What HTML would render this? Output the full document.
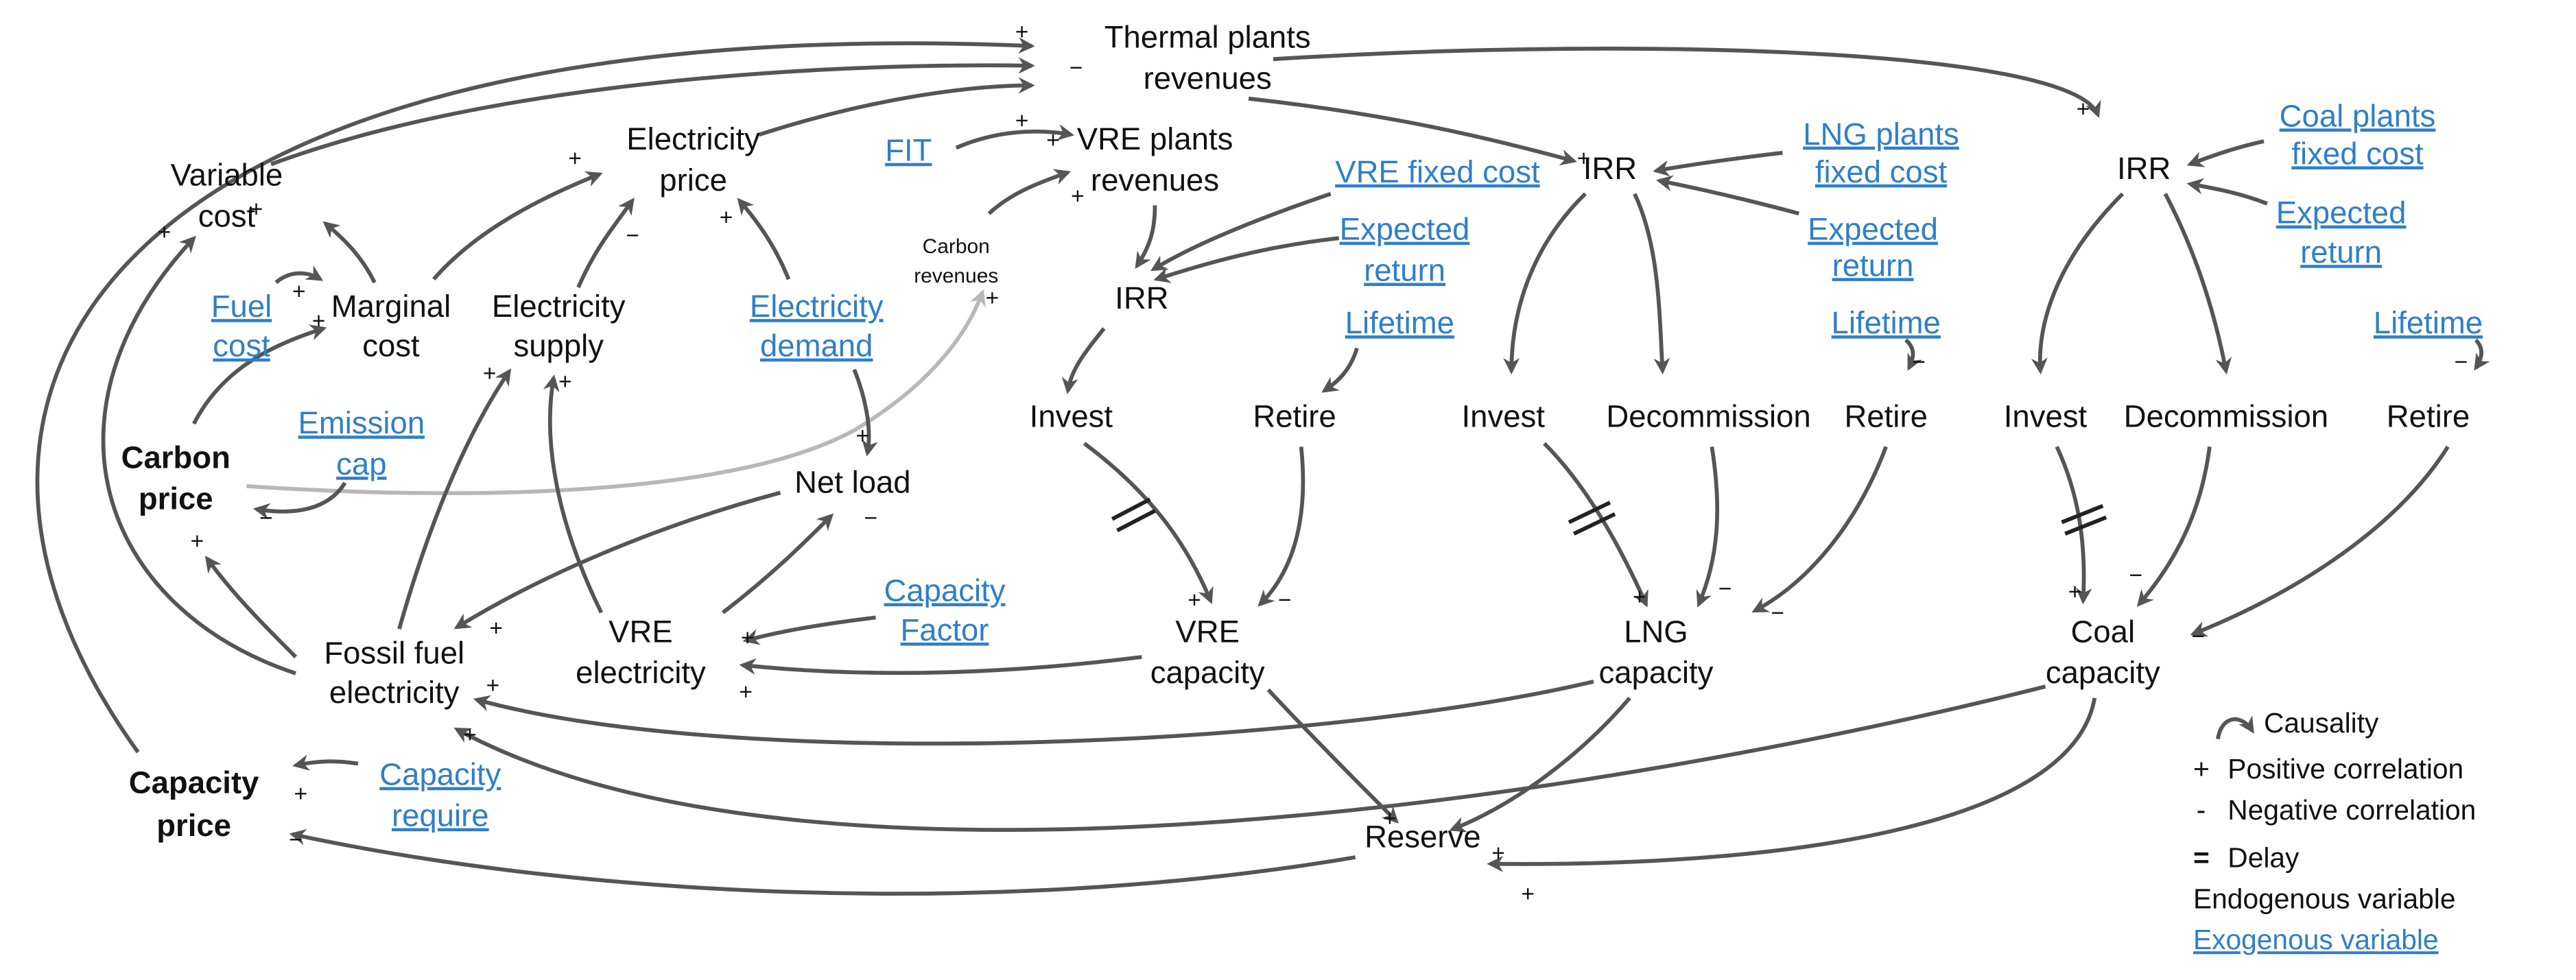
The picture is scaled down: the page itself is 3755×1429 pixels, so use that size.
<!DOCTYPE html>
<html><head><meta charset="utf-8"><style>
html,body{margin:0;padding:0;background:#fff;}
svg{display:block;}
text{font-family:"Liberation Sans",Arial,sans-serif;font-size:19px;fill:#111;text-anchor:middle;}
.b{font-weight:bold;}
.x{fill:#2f7fc8;text-decoration:underline;}
.s{font-size:12.5px;}
.p{font-size:14px;}
.e{fill:none;stroke:#555;stroke-width:2.4;marker-end:url(#ah);}
.g{fill:none;stroke:#b8b8b8;stroke-width:2.4;marker-end:url(#ahg);}
.d{stroke:#222;stroke-width:2.4;}
.l{text-anchor:start;font-size:17px;}
</style></head><body>
<svg width="3755" height="1429" viewBox="0 0 1568 596.7" xmlns="http://www.w3.org/2000/svg">
<defs>
<marker id="ah" markerWidth="10" markerHeight="10" refX="8" refY="5" orient="auto" markerUnits="userSpaceOnUse"><path d="M0,0 L10,5 L0,10 L3,5 z" fill="#555"/></marker>
<marker id="ahg" markerWidth="10" markerHeight="10" refX="8" refY="5" orient="auto" markerUnits="userSpaceOnUse"><path d="M0,0 L10,5 L0,10 L3,5 z" fill="#b8b8b8"/></marker>
</defs>
<!-- edges -->
<path class="g" d="M150,296 C300,306 450,300 520,262 C570,232 590,200 598,178"/>
<path class="e" d="M84,458 C-80,230 80,5 628,28"/>
<path class="e" d="M180,410 C60,370 20,250 118,145"/>
<path class="e" d="M165,100 C300,50 500,38 628,40"/>
<path class="e" d="M462,82 C530,60 590,52 628,52"/>
<path class="e" d="M760,60 C850,70 910,85 958,98"/>
<path class="e" d="M775,36 C1000,22 1262,30 1277,70"/>
<path class="e" d="M582,90 C605,80 630,78 652,82"/>
<path class="e" d="M602,130 C615,118 630,112 650,105"/>
<path class="e" d="M703,125 C703,140 700,150 692,162"/>
<path class="e" d="M810,118 C760,135 725,150 702,164"/>
<path class="e" d="M815,145 C770,150 735,160 704,170"/>
<path class="e" d="M672,200 C660,215 652,225 650,238"/>
<path class="e" d="M826,212 C822,225 815,232 806,238"/>
<path class="e" d="M660,270 C700,300 722,330 737,366"/>
<path class="e" d="M792,272 C796,310 790,345 767,368"/>
<path class="e" d="M695,400 C600,412 520,412 452,405"/>
<path class="e" d="M533,376 C500,380 472,385 454,390"/>
<path class="e" d="M440,373 C470,350 490,330 506,314"/>
<path class="e" d="M475,300 C400,320 330,350 278,382"/>
<path class="e" d="M520,225 C526,240 531,260 528,276"/>
<path class="e" d="M366,373 C340,320 330,270 337,230"/>
<path class="e" d="M243,383 C258,330 280,270 310,226"/>
<path class="e" d="M352,175 C362,152 372,140 385,122"/>
<path class="e" d="M480,170 C472,150 462,136 450,122"/>
<path class="e" d="M264,170 C290,140 330,120 365,106"/>
<path class="e" d="M228,172 C220,156 210,146 198,136"/>
<path class="e" d="M168,172 C175,166 185,164 195,170"/>
<path class="e" d="M118,258 C135,225 165,210 197,200"/>
<path class="e" d="M210,294 C200,310 180,314 156,310"/>
<path class="e" d="M180,400 C160,380 142,362 126,340"/>
<path class="e" d="M970,415 C800,455 450,470 290,426"/>
<path class="e" d="M1245,418 C1000,480 500,565 278,444"/>
<path class="e" d="M825,522 C600,560 350,545 178,508"/>
<path class="e" d="M218,465 C205,463 195,463 180,466"/>
<path class="e" d="M772,420 C800,450 830,480 850,500"/>
<path class="e" d="M992,425 C962,460 922,490 884,505"/>
<path class="e" d="M1275,425 C1262,500 1100,528 907,526"/>
<path class="e" d="M965,118 C932,150 920,190 920,226"/>
<path class="e" d="M995,118 C1010,150 1010,190 1012,226"/>
<path class="e" d="M1085,93 C1060,96 1030,100 1008,104"/>
<path class="e" d="M1095,130 C1065,122 1035,115 1010,110"/>
<path class="e" d="M1160,207 C1166,212 1165,218 1162,224"/>
<path class="e" d="M940,270 C965,295 985,330 1002,368"/>
<path class="e" d="M1042,272 C1048,310 1046,340 1034,368"/>
<path class="e" d="M1148,272 C1130,320 1100,355 1068,372"/>
<path class="e" d="M1292,118 C1250,160 1240,200 1242,226"/>
<path class="e" d="M1318,118 C1340,160 1350,200 1355,226"/>
<path class="e" d="M1378,86 C1360,90 1346,95 1333,100"/>
<path class="e" d="M1380,124 C1365,118 1350,115 1333,112"/>
<path class="e" d="M1507,207 C1512,212 1511,218 1507,224"/>
<path class="e" d="M1252,272 C1265,300 1270,330 1268,366"/>
<path class="e" d="M1345,272 C1340,310 1326,340 1302,368"/>
<path class="e" d="M1490,272 C1460,320 1400,360 1335,386"/>
<!-- delay marks -->
<line class="d" x1="677" y1="316" x2="700" y2="304"/><line class="d" x1="680" y1="323" x2="703" y2="311"/>
<line class="d" x1="955" y1="318" x2="980" y2="306"/><line class="d" x1="958" y1="325" x2="983" y2="313"/>
<line class="d" x1="1255" y1="318" x2="1280" y2="308"/><line class="d" x1="1257" y1="325" x2="1282" y2="315"/>
<!-- labels -->
<text x="735" y="29">Thermal plants</text><text x="735" y="54">revenues</text>
<text x="138" y="113">Variable</text><text x="138" y="138">cost</text>
<text x="422" y="91">Electricity</text><text x="422" y="116">price</text>
<text class="x" x="553" y="98">FIT</text>
<text x="703" y="91">VRE plants</text><text x="703" y="116">revenues</text>
<text class="s" x="582" y="154">Carbon</text><text class="s" x="582" y="172">revenues</text>
<text class="x" x="875" y="111">VRE fixed cost</text>
<text class="x" x="855" y="146">Expected</text><text class="x" x="855" y="171">return</text>
<text x="695" y="188">IRR</text>
<text class="x" x="147" y="193">Fuel</text><text class="x" x="147" y="217">cost</text>
<text x="238" y="193">Marginal</text><text x="238" y="217">cost</text>
<text x="340" y="193">Electricity</text><text x="340" y="217">supply</text>
<text class="x" x="497" y="193">Electricity</text><text class="x" x="497" y="217">demand</text>
<text class="x" x="852" y="203">Lifetime</text>
<text x="652" y="260">Invest</text><text x="788" y="260">Retire</text>
<text class="x" x="220" y="264">Emission</text><text class="x" x="220" y="289">cap</text>
<text class="b" x="107" y="285">Carbon</text><text class="b" x="107" y="310">price</text>
<text x="519" y="300">Net load</text>
<text class="x" x="575" y="366">Capacity</text><text class="x" x="575" y="390">Factor</text>
<text x="735" y="391">VRE</text><text x="735" y="416">capacity</text>
<text x="390" y="391">VRE</text><text x="390" y="416">electricity</text>
<text x="240" y="404">Fossil fuel</text><text x="240" y="428">electricity</text>
<text class="b" x="118" y="483">Capacity</text><text class="b" x="118" y="509">price</text>
<text class="x" x="268" y="478">Capacity</text><text class="x" x="268" y="503">require</text>
<text x="866" y="516">Reserve</text>
<text x="980" y="109">IRR</text>
<text class="x" x="1145" y="88">LNG plants</text><text class="x" x="1145" y="111">fixed cost</text>
<text class="x" x="1140" y="146">Expected</text><text class="x" x="1140" y="168">return</text>
<text class="x" x="1148" y="203">Lifetime</text>
<text x="915" y="260">Invest</text><text x="1040" y="260">Decommission</text><text x="1148" y="260">Retire</text>
<text x="1008" y="391">LNG</text><text x="1008" y="416">capacity</text>
<text x="1305" y="109">IRR</text>
<text class="x" x="1435" y="77">Coal plants</text><text class="x" x="1435" y="100">fixed cost</text>
<text class="x" x="1425" y="136">Expected</text><text class="x" x="1425" y="160">return</text>
<text class="x" x="1478" y="203">Lifetime</text>
<text x="1245" y="260">Invest</text><text x="1355" y="260">Decommission</text><text x="1478" y="260">Retire</text>
<text x="1280" y="391">Coal</text><text x="1280" y="416">capacity</text>
<!-- polarity -->
<g class="p">
<text class="p" x="622" y="24">+</text><text class="p" x="655" y="46">−</text><text class="p" x="622" y="78">+</text>
<text class="p" x="156" y="132">+</text><text class="p" x="100" y="146">+</text>
<text class="p" x="350" y="101">+</text><text class="p" x="385" y="148">−</text><text class="p" x="442" y="137">+</text>
<text class="p" x="641" y="90">+</text><text class="p" x="656" y="124">+</text>
<text class="p" x="182" y="182">+</text><text class="p" x="194" y="200">+</text>
<text class="p" x="298" y="232">+</text><text class="p" x="344" y="237">+</text>
<text class="p" x="604" y="186">+</text>
<text class="p" x="525" y="270">+</text><text class="p" x="530" y="320">−</text>
<text class="p" x="162" y="320">−</text><text class="p" x="120" y="334">+</text>
<text class="p" x="302" y="387">+</text><text class="p" x="455" y="393">+</text><text class="p" x="454" y="426">+</text>
<text class="p" x="300" y="422">+</text><text class="p" x="286" y="452">+</text>
<text class="p" x="183" y="488">+</text><text class="p" x="180" y="516">−</text>
<text class="p" x="727" y="370">+</text><text class="p" x="782" y="370">−</text>
<text class="p" x="964" y="101">+</text>
<text class="p" x="1168" y="225">−</text><text class="p" x="998" y="368">+</text><text class="p" x="1050" y="363">−</text><text class="p" x="1082" y="378">−</text>
<text class="p" x="1268" y="71">+</text>
<text class="p" x="1498" y="225">−</text><text class="p" x="1263" y="365">+</text><text class="p" x="1300" y="355">−</text><text class="p" x="1338" y="392">−</text>
<text class="p" x="846" y="503">+</text><text class="p" x="912" y="524">+</text><text class="p" x="930" y="549">+</text>
</g>
<!-- legend -->
<path d="M1350,450 C1352,436 1364,434 1371,445" fill="none" stroke="#555" stroke-width="2.4" marker-end="url(#ah)"/>
<text class="l" x="1378" y="446">Causality</text>
<text class="l" x="1335" y="474">+</text><text class="l" x="1356" y="474">Positive correlation</text>
<text class="l" x="1337" y="499">-</text><text class="l" x="1356" y="499">Negative correlation</text>
<text class="l" x="1335" y="528" style="font-weight:bold">=</text><text class="l" x="1356" y="528">Delay</text>
<text class="l" x="1335" y="553">Endogenous variable</text>
<text class="l x" x="1335" y="578">Exogenous variable</text>
</svg>
</body></html>
